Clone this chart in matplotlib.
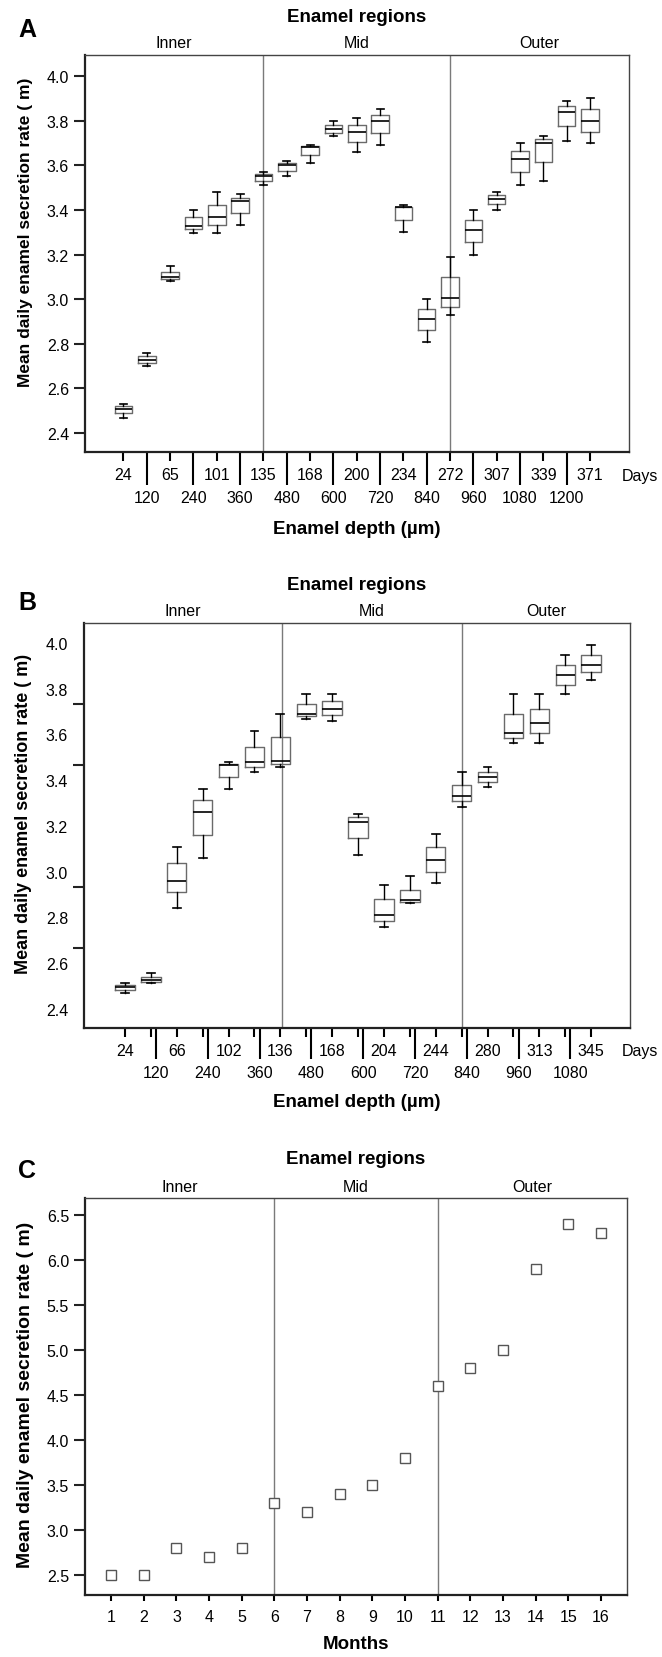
import matplotlib
matplotlib.use("Agg")
import matplotlib.pyplot as plt
import matplotlib.transforms as mtransforms
import numpy as np

plt.rcParams['font.family'] = ['Liberation Sans', 'DejaVu Sans']
plt.rcParams['font.size'] = 11

# ---------------- data ----------------
# Panel A: box stats per position (21 boxes)
a_days = ['24', '65', '101', '135', '168', '200', '234', '272', '307', '339', '371']
a_depth = ['120', '240', '360', '480', '600', '720', '840', '960', '1080', '1200']
a_whishi = [2.53, 2.76, 3.15, 3.40, 3.48, 3.47, 3.57, 3.62, 3.69, 3.80, 3.81,
            3.85, 3.42, 3.00, 3.19, 3.40, 3.48, 3.70, 3.73, 3.89, 3.90]
a_q3 = [2.52, 2.745, 3.123, 3.366, 3.424, 3.453, 3.561, 3.61, 3.685, 3.78, 3.78,
        3.825, 3.415, 2.954, 3.10, 3.355, 3.466, 3.666, 3.716, 3.866, 3.85]
a_med = [2.508, 2.729, 3.10, 3.328, 3.37, 3.44, 3.55, 3.60, 3.68, 3.763, 3.75,
         3.80, 3.412, 2.909, 3.007, 3.31, 3.45, 3.63, 3.70, 3.84, 3.80]
a_q1 = [2.49, 2.714, 3.088, 3.313, 3.334, 3.385, 3.531, 3.576, 3.646, 3.746, 3.706,
        3.746, 3.355, 2.86, 2.967, 3.254, 3.425, 3.57, 3.615, 3.776, 3.75]
a_whislo = [2.468, 2.70, 3.08, 3.298, 3.298, 3.33, 3.51, 3.55, 3.61, 3.73, 3.66,
            3.69, 3.30, 2.81, 2.929, 3.20, 3.40, 3.51, 3.53, 3.71, 3.70]
a_bounds = [6, 14]

# Panel B: 19 boxes
b_days = ['24', '66', '102', '136', '168', '204', '244', '280', '313', '345']
b_depth = ['120', '240', '360', '480', '600', '720', '840', '960', '1080']
b_whishi = [2.514, 2.557, 3.11, 3.361, 3.478, 3.617, 3.69, 3.776, 3.776, 3.251,
            2.94, 2.98, 3.166, 3.434, 3.456, 3.776, 3.776, 3.946, 3.99]
b_q3 = [2.504, 2.542, 3.04, 3.313, 3.472, 3.547, 3.588, 3.731, 3.744, 3.237,
        2.88, 2.92, 3.109, 3.38, 3.434, 3.69, 3.71, 3.903, 3.946]
b_med = [2.494, 2.528, 2.96, 3.263, 3.466, 3.478, 3.485, 3.688, 3.71, 3.219,
         2.81, 2.875, 3.05, 3.329, 3.412, 3.605, 3.649, 3.861, 3.902]
b_q1 = [2.483, 2.519, 2.91, 3.162, 3.412, 3.456, 3.47, 3.68, 3.686, 3.146,
        2.784, 2.868, 3.00, 3.307, 3.39, 3.583, 3.605, 3.817, 3.871]
b_whislo = [2.472, 2.515, 2.84, 3.061, 3.361, 3.434, 3.456, 3.668, 3.658, 3.073,
            2.758, 2.863, 2.95, 3.285, 3.37, 3.561, 3.561, 3.776, 3.84]
b_bounds = [6.05, 13]

# Panel C: monthly means
c_months = list(range(1, 17))
c_rate = [2.5, 2.5, 2.8, 2.7, 2.8, 3.3, 3.2, 3.4, 3.5, 3.8, 4.6, 4.8, 5.0, 5.9, 6.4, 6.3]
c_bounds = [6, 11]

regions = ['Inner', 'Mid', 'Outer']
ylab = 'Mean daily enamel secretion rate ( m)'

W, H = 662, 1658
fig = plt.figure(figsize=(W / 100, H / 100), dpi=100)


def make_axes(left, right, top, bottom):
    ax = fig.add_axes([left / W, 1 - bottom / H, (right - left) / W, (bottom - top) / H])
    for s in ['left', 'bottom']:
        ax.spines[s].set_linewidth(1.6)
        ax.spines[s].set_color('#222222')
    for s in ['top', 'right']:
        ax.spines[s].set_linewidth(1.0)
        ax.spines[s].set_color('#444444')
    ax.tick_params(axis='y', length=8, width=1.5, pad=3.5, labelsize=11.5, color='#222222')
    return ax


def decorate(ax, bounds, xlim, title_y, letter, letter_y, ysize, ypos):
    for b in bounds:
        ax.axvline(b, color='#7a7a7a', lw=1.0, zorder=1)
    edges = [xlim[0]] + bounds + [xlim[1]]
    tr = mtransforms.blended_transform_factory(ax.transData, ax.transAxes)
    hpx = ax.get_position().height * H
    for i, name in enumerate(regions):
        ax.text((edges[i] + edges[i + 1]) / 2, 1 + 12 / hpx, name, transform=tr,
                ha='center', va='center', fontsize=11.5)
    pos = ax.get_position()
    fig.text(pos.x0 + pos.width / 2, 1 - title_y / H, 'Enamel regions', ha='center',
             va='center', fontsize=13.5, fontweight='bold')
    fig.text(18 / W, 1 - letter_y / H, letter, ha='left', va='center',
             fontsize=18, fontweight='bold')
    ax.set_ylabel(ylab, fontsize=ysize, fontweight='bold')
    ax.yaxis.set_label_coords(-0.095, ypos)


def box_panel(ax, whislo, q1, med, q3, whishi):
    stats = []
    for lo, a, m, b, hi in zip(whislo, q1, med, q3, whishi):
        stats.append(dict(whislo=lo, q1=a, med=m, q3=b, whishi=hi))
    ax.bxp(stats, positions=np.arange(len(stats)), widths=0.75, showfliers=False,
           manage_ticks=False, capwidths=0.3,
           boxprops=dict(color='#6a6a6a', lw=1.0),
           medianprops=dict(color='black', lw=1.2),
           whiskerprops=dict(color='black', lw=1.0),
           capprops=dict(color='black', lw=1.2))


# ---------------- Panel A ----------------
axA = make_axes(85, 629, 56, 453)
box_panel(axA, a_whislo, a_q1, a_med, a_q3, a_whishi)
xlimA = (-1.65, 21.67)
axA.set_xlim(*xlimA)
axA.set_ylim(2.315, 4.094)
axA.set_yticks(np.arange(2.4, 4.01, 0.2))
axA.set_yticklabels([f'{v:.1f}' for v in np.arange(2.4, 4.01, 0.2)])
axA.set_xticks(np.arange(0, 21, 2), labels=a_days)
axA.set_xticks(np.arange(1, 20, 2), labels=a_depth, minor=True)
axA.tick_params(axis='x', which='major', length=6.3, width=1.5, pad=4.5, labelsize=11.5)
axA.tick_params(axis='x', which='minor', length=23.5, width=1.5, pad=4.2, labelsize=11.5)
decorate(axA, a_bounds, xlimA, 17, 'A', 30, 12.5, 0.555)
fig.text(622 / W, 1 - 476 / H, 'Days', ha='left', va='center', fontsize=11.5)
fig.text(357 / W, 1 - 530 / H, 'Enamel depth (µm)', ha='center', va='center',
         fontsize=13.5, fontweight='bold')

# ---------------- Panel B ----------------
axB = make_axes(84, 630, 624, 1029)
box_panel(axB, b_whislo, b_q1, b_med, b_q3, b_whishi)
xlimB = (-1.58, 19.5)
axB.set_xlim(*xlimB)
axB.set_ylim(2.317, 4.087)
axB.set_yticks(np.arange(2.4, 4.01, 0.2))
axB.set_yticklabels([f'{v:.1f}' for v in np.arange(2.4, 4.01, 0.2)])
axB.set_yticks(np.linspace(2.4, 4.0, 7), minor=True)
axB.tick_params(axis='y', which='major', length=0, pad=11.5)
axB.tick_params(axis='y', which='minor', length=8, width=1.5, color='#222222')
npos = len(b_med)
axB.set_xticks(np.arange(npos), labels=[b_days[i // 2] if i % 2 == 0 else '' for i in range(npos)])
axB.set_xticks(np.arange(1, npos - 1, 2) + 0.2, labels=b_depth, minor=True)
axB.tick_params(axis='x', which='major', length=6.5, width=1.5, pad=4.5, labelsize=11.5)
axB.tick_params(axis='x', which='minor', length=22.3, width=1.5, pad=4.2, labelsize=11.5)
decorate(axB, b_bounds, xlimB, 585, 'B', 603, 13, 0.53)
fig.text(622 / W, 1 - 1052 / H, 'Days', ha='left', va='center', fontsize=11.5)
fig.text(357 / W, 1 - 1103 / H, 'Enamel depth (µm)', ha='center', va='center',
         fontsize=13.5, fontweight='bold')

# ---------------- Panel C ----------------
axC = make_axes(85, 627, 1199, 1596)
axC.plot(c_months, c_rate, ls='none', marker='s', ms=7, mfc='white', mec='#555555',
         mew=1.0, zorder=3)
xlimC = (0.2, 16.8)
axC.set_xlim(*xlimC)
axC.set_ylim(2.276, 6.69)
axC.set_yticks(np.arange(2.5, 6.51, 0.5))
axC.set_yticklabels([f'{v:.1f}' for v in np.arange(2.5, 6.51, 0.5)])
axC.set_xticks(c_months)
axC.tick_params(axis='x', length=4.3, width=1.5, pad=5.5, labelsize=11.5)
decorate(axC, c_bounds, xlimC, 1160, 'C', 1171, 14, 0.507)
fig.text(356 / W, 1 - 1645 / H, 'Months', ha='center', va='center',
         fontsize=13.5, fontweight='bold')

fig.savefig('out.png', dpi=100)
